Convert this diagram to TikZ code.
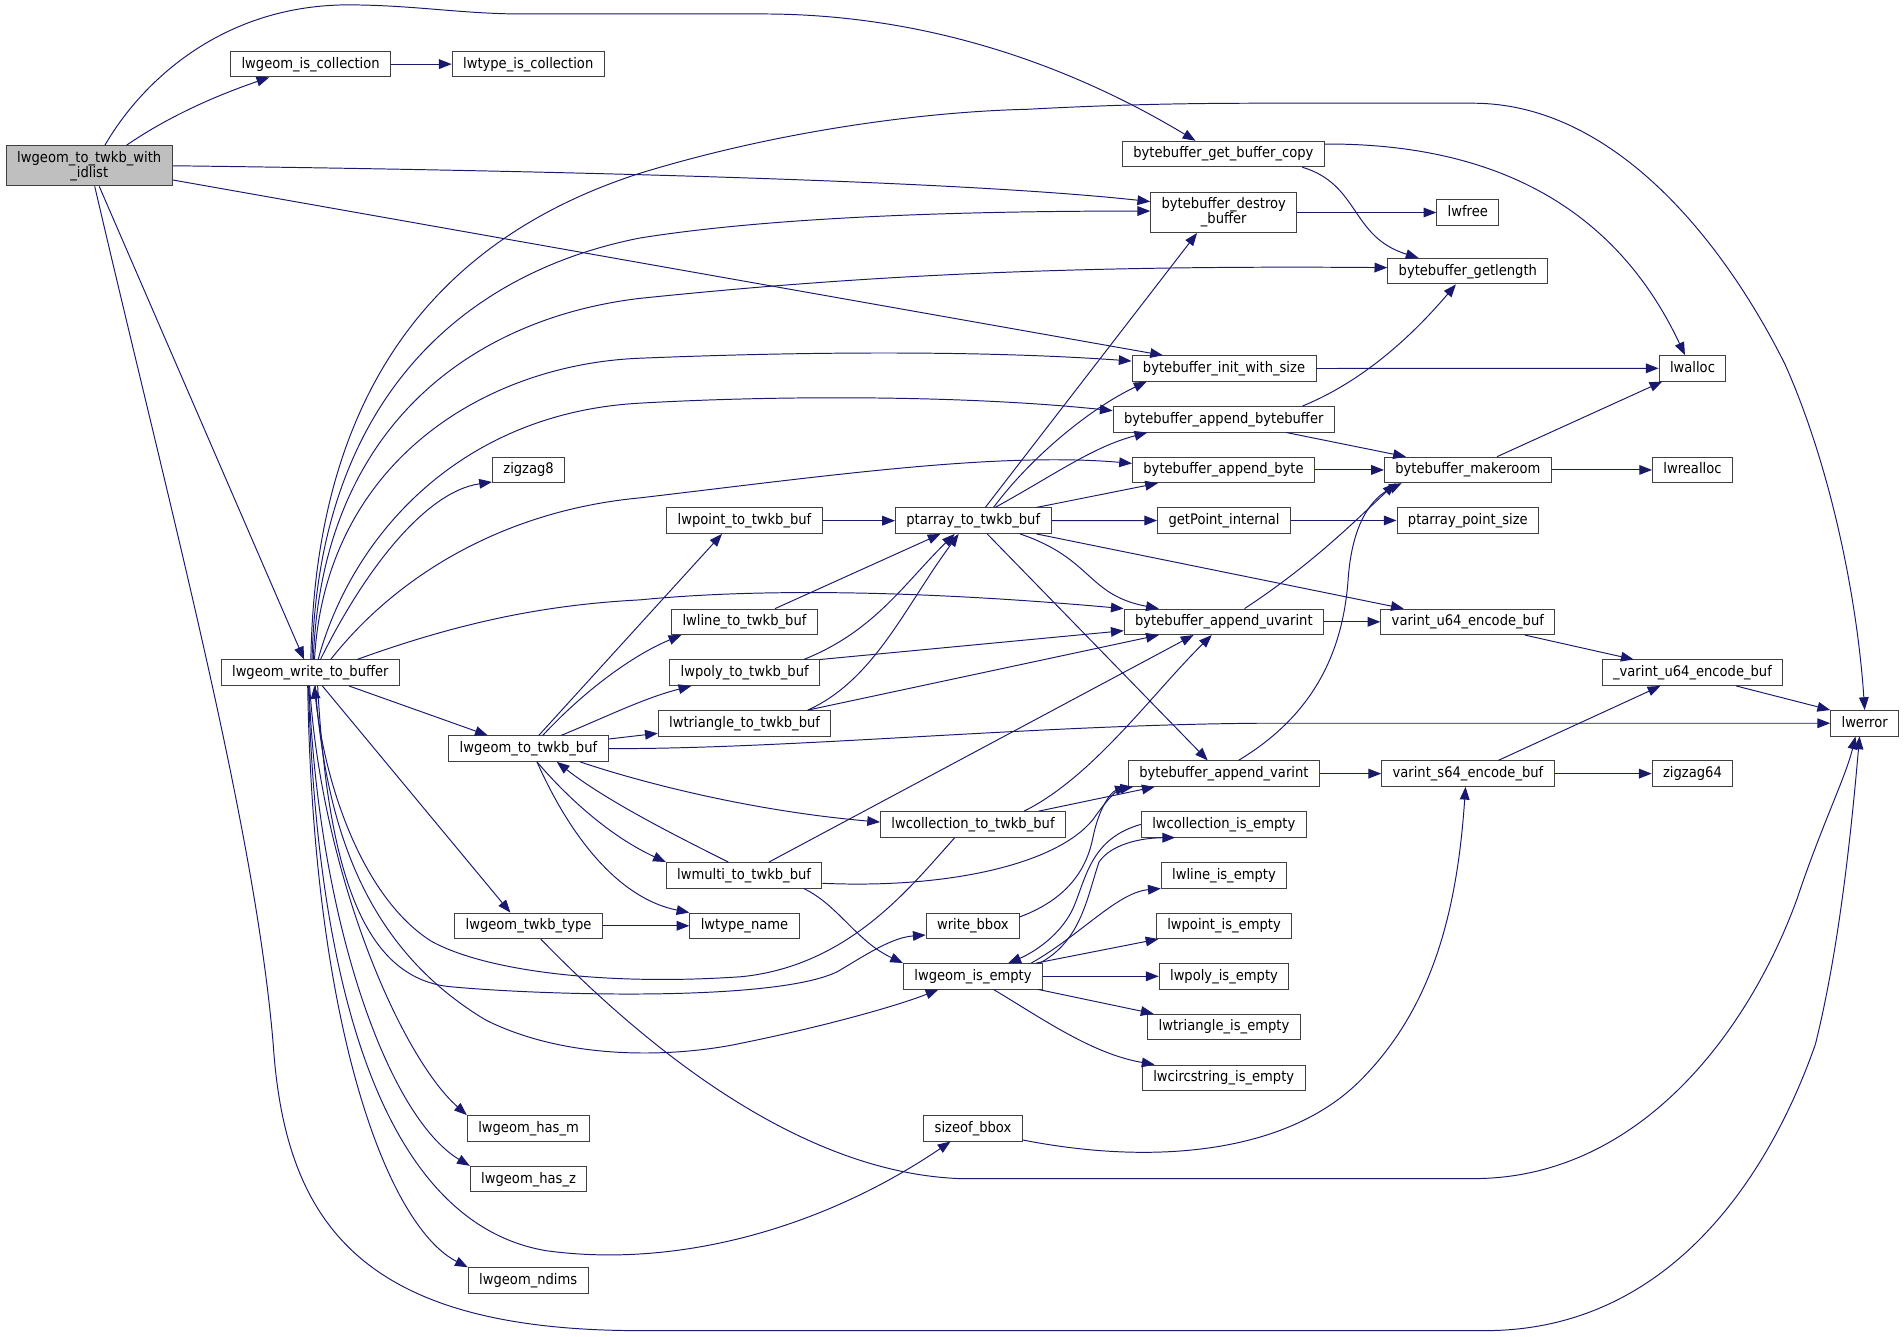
\documentclass[tikz,border=0pt]{standalone}
\usepackage{fontspec}
\setmainfont{DejaVu Sans}[FakeStretch=0.9]
\usetikzlibrary{arrows.meta}
\definecolor{callblue}{HTML}{191970}
\definecolor{boxline}{HTML}{404040}
\definecolor{rootfill}{HTML}{BFBFBF}
\begin{document}
\begin{tikzpicture}[x=1pt,y=-1pt,
fn/.style={draw=boxline,line width=0.8pt,fill=white,font=\fontsize{12}{12.4}\selectfont,inner xsep=9pt,inner ysep=0pt,minimum height=21pt,text height=9.3pt,text depth=2.8pt},
fntwo/.style={draw=boxline,line width=0.8pt,fill=white,font=\fontsize{12}{12.4}\selectfont,inner xsep=9pt,inner ysep=1pt,minimum height=33pt,align=center},
call/.style={draw=callblue,line width=0.8pt,-{Triangle[length=10.5pt,width=8pt]}}]
\useasboundingbox (0,0) rectangle (1568,1101);

\node[fntwo,fill=rootfill] (withidlist) at (73.5,136.5){lwgeom\_to\_twkb\_with\\\_idlist};
\node[fntwo] (destroy) at (1007.8,175){bytebuffer\_destroy\\\_buffer};

\foreach \n/\x/\y/\t in {iscoll/255.8/52.8/lwgeom\_is\_collection,typeiscoll/435/52.8/lwtype\_is\_collection,getcopy/1007.5/126.8/bytebuffer\_get\_buffer\_copy,lwfree/1208.8/175/lwfree,getlength/1208.8/223.3/bytebuffer\_getlength,initsize/1008/303.5/bytebuffer\_init\_with\_size,lwalloc/1393.8/303.3/lwalloc,appbb/1007.8/345.3/bytebuffer\_append\_bytebuffer,zigzag8/435.3/387/zigzag8,appbyte/1007.6/387/bytebuffer\_append\_byte,makeroom/1208.8/387/bytebuffer\_makeroom,lwrealloc/1393.8/387/lwrealloc}{ \node[fn] (\n) at (\x,\y){\t};}

\foreach \n/\x/\y/\t in {pointbuf/613.1/428.8/lwpoint\_to\_twkb\_buf,ptarray/801.5/428.8/ptarray\_to\_twkb\_buf,getpoint/1008/428.6/getPoint\_internal,ptsize/1208.8/428.6/ptarray\_point\_size,linebuf/613.1/512.1/lwline\_to\_twkb\_buf,appuvar/1007.9/512.1/bytebuffer\_append\_uvarint,u64enc/1208.8/512.1/varint\_u64\_encode\_buf,writebuf/255.6/554/lwgeom\_write\_to\_buffer,polybuf/613.3/554/lwpoly\_to\_twkb\_buf,u64raw/1393.8/554/\_varint\_u64\_encode\_buf,tribuf/613.2/595.7/lwtriangle\_to\_twkb\_buf,lwerror/1535.6/595.6/lwerror,geombuf/435.2/616.5/lwgeom\_to\_twkb\_buf,appvar/1007.9/637.1/bytebuffer\_append\_varint,s64enc/1208.9/637.1/varint\_s64\_encode\_buf,zigzag64/1393.8/637.1/zigzag64}{ \node[fn] (\n) at (\x,\y){\t};}

\foreach \n/\x/\y/\t in {collbuf/801.3/678.9/lwcollection\_to\_twkb\_buf,collempty/1007.8/678.9/lwcollection\_is\_empty,multibuf/612.8/720.8/lwmulti\_to\_twkb\_buf,lineempty/1008/720.8/lwline\_is\_empty,twkbtype/435.3/762.4/lwgeom\_twkb\_type,typename/613.1/762.4/lwtype\_name,writebbox/801.2/762.4/write\_bbox,pointempty/1008/762.4/lwpoint\_is\_empty,geomempty/801.3/804/lwgeom\_is\_empty,polyempty/1008/804/lwpoly\_is\_empty,triempty/1008/845.7/lwtriangle\_is\_empty,circempty/1007.8/887.6/lwcircstring\_is\_empty,sizebbox/801.3/929.2/sizeof\_bbox,hasm/435.3/929.2/lwgeom\_has\_m,hasz/435.3/971/lwgeom\_has\_z,ndims/435/1054.5/lwgeom\_ndims}{ \node[fn] (\n) at (\x,\y){\t};}

\foreach \a/\b in {iscoll/typeiscoll,destroy/lwfree,initsize/lwalloc,appbyte/makeroom,makeroom/lwrealloc,pointbuf/ptarray,ptarray/getpoint,getpoint/ptsize,appuvar/u64enc,appvar/s64enc,s64enc/zigzag64,twkbtype/typename,geomempty/polyempty}{ \draw[call] (\a) -- (\b);}

\draw[call] ([xshift=12.9]withidlist.north) .. controls (115,70) and (180,5) .. (285,4) .. controls (340,4) and (380,11.5) .. (430,11.5) -- (628,11.5) .. controls (780,11.5) and (900,65) .. ([xshift=-23]getcopy.north);
\draw[call] ([xshift=30.7]withidlist.north) .. controls (140,95) and (180,78) .. ([xshift=-34]iscoll.south);
\draw[call] (withidlist.east) .. controls (500,141) and (800,150) .. ([yshift=9]destroy.west);
\draw[call] ([yshift=-11.7]withidlist.east) -- ([xshift=-50.3]initsize.north);
\draw[call] ([xshift=8.2]withidlist.south) -- ([xshift=-5.2]writebuf.north);
\draw[call] ([xshift=4.5]withidlist.south) .. controls (140,420) and (210,680) .. (225,860) .. controls (235,1010) and (300,1095.8) .. (527,1095.8) -- (1223,1095.8) .. controls (1380,1095.8) and (1460,960) .. (1495,860) .. controls (1515,780) and (1525,680) .. ([xshift=-4.2]lwerror.south);

\draw[call] ([xshift=65]getcopy.south) .. controls (1120,152) and (1112,195) .. ([xshift=-40.6]getlength.north);
\draw[call] ([yshift=8.2]getcopy.east) .. controls (1230,118) and (1330,170) .. ([xshift=-6.2]lwalloc.north);
\draw[call] ([xshift=64.8]appbb.north) .. controls (1120,315) and (1160,280) .. ([xshift=-9.8]getlength.south);
\draw[call] ([xshift=51.6]appbb.south) -- ([xshift=-51]makeroom.north);
\draw[call] ([xshift=24]makeroom.north) -- ([xshift=-24.8]lwalloc.south);
\draw[call] ([xshift=17]appuvar.north) .. controls (1080,465) and (1115,430) .. ([xshift=-59.6]makeroom.south);
\draw[call] ([xshift=12]appvar.north) .. controls (1080,590) and (1105,540) .. (1110,480) .. controls (1113,430) and (1130,410) .. ([xshift=-54.5]makeroom.south);
\draw[call] ([xshift=47]u64enc.south) -- ([xshift=-48.4]u64raw.north);
\draw[call] ([xshift=25]s64enc.north) -- ([xshift=-26.4]u64raw.south);
\draw[call] ([xshift=36]u64raw.south) -- (lwerror.north west);

\draw[call] ([xshift=0.4]writebuf.north) .. controls (260,300) and (380,190) .. (527,142.7) .. controls (640,108) and (760,92) .. (846,90) .. controls (920,86) and (980,85) .. (1040,85) -- (1213,85) .. controls (1330,85) and (1420,200) .. (1470,300) .. controls (1510,390) and (1530,500) .. (lwerror.north);
\draw[call] ([xshift=1.4]writebuf.north) .. controls (262,330) and (380,225) .. (527,196) .. controls (640,178) and (800,173.8) .. ([yshift=1.2]destroy.west);
\draw[call] ([xshift=2.4]writebuf.north) .. controls (265,350) and (390,262) .. (527,245.7) .. controls (680,230) and (850,218) .. ([yshift=2.9]getlength.west);
\draw[call] ([xshift=3.4]writebuf.north) .. controls (268,380) and (400,300) .. (527,295) .. controls (650,290) and (800,288) .. ([yshift=6.2]initsize.west);
\draw[call] ([xshift=6.4]writebuf.north) .. controls (290,440) and (380,340) .. (527,332) .. controls (650,325) and (800,326) .. ([yshift=7.1]appbb.west);
\draw[call] ([xshift=16.7]writebuf.north) .. controls (330,470) and (420,420) .. (527,410) .. controls (680,392) and (820,372) .. ([yshift=5.4]appbyte.west);
\draw[call] ([xshift=8.3]writebuf.north) .. controls (300,470) and (350,405) .. ([yshift=1]zigzag8.south west);
\draw[call] ([xshift=38.4]writebuf.north) .. controls (380,512) and (450,498) .. (527,494) .. controls (650,482) and (800,490) .. (appuvar.north west);

\draw[call] ([xshift=31.8]writebuf.south) -- ([xshift=-33.5]geombuf.north);
\draw[call] ([xshift=9.9]writebuf.south) -- ([xshift=-15]twkbtype.north);
\draw[call] ([xshift=4]writebuf.south) .. controls (268,680) and (300,780) .. (400,840) .. controls (470,875) and (560,870) .. (611,859) .. controls (680,845) and (740,828) .. ([xshift=-28.5]geomempty.south);
\draw[call] ([xshift=6]writebuf.south) .. controls (270,720) and (300,805) .. (370,812.5) .. controls (450,820) and (640,825) .. (690,800) .. controls (715,785) and (735,772) .. ([yshift=-7.6]writebbox.west);
\draw[call] ([xshift=-15]collbuf.south) .. controls (750,730) and (700,795) .. (611,804.3) .. controls (500,812) and (400,800) .. (355,775) .. controls (300,740) and (268,650) .. ([xshift=3.2]writebuf.south);
\draw[call] ([xshift=-1.6]writebuf.south) .. controls (262,850) and (330,1010) .. (450,1030) .. controls (560,1045) and (680,1010) .. ([xshift=-18.5]sizebbox.south);
\draw[call] ([xshift=-0.6]writebuf.south) .. controls (265,720) and (330,870) .. (hasm.north west);
\draw[call] ([xshift=-1.2]writebuf.south) .. controls (262,760) and (320,920) .. (hasz.north west);
\draw[call] ([xshift=-2.2]writebuf.south) .. controls (258,850) and (320,1010) .. (ndims.north west);

\draw[call] ([xshift=8.5]geombuf.north) -- ([xshift=-18.5]pointbuf.south);
\draw[call] ([xshift=11.8]geombuf.north) .. controls (480,570) and (520,540) .. ([xshift=-52]linebuf.south);
\draw[call] ([xshift=27]geombuf.north) .. controls (500,590) and (530,575) .. ([xshift=-44]polybuf.south);
\draw[call] ([yshift=7.9]geombuf.east) -- ([yshift=-8.2]tribuf.west);
\draw[call] ([xshift=42.4]geombuf.south) .. controls (530,645) and (620,668) .. ([yshift=1.9]collbuf.west);
\draw[call] ([xshift=7]geombuf.south) .. controls (470,660) and (505,690) .. (multibuf.north west);
\draw[call] ([xshift=-13]multibuf.north) .. controls (560,690) and (500,660) .. ([xshift=23.3]geombuf.south);
\draw[call] ([xshift=7]geombuf.south) .. controls (470,690) and (510,740) .. (typename.north west);
\draw[call] (geombuf.east) .. controls (650,617) and (850,597) .. (1037,595.6) -- (lwerror.west);

\draw[call] ([xshift=9.9]ptarray.north) -- ([xshift=-22]destroy.south);
\draw[call] ([xshift=16.7]ptarray.north) .. controls (850,375) and (900,335) .. ([xshift=-63.8]initsize.south);
\draw[call] ([xshift=18]ptarray.north) .. controls (870,390) and (900,368) .. ([xshift=-63]appbb.south);
\draw[call] ([xshift=52]ptarray.north) -- ([xshift=-54]appbyte.south);
\draw[call] ([xshift=38.5]ptarray.south) .. controls (900,460) and (895,490) .. ([xshift=-53.6]appuvar.north);
\draw[call] ([xshift=52]ptarray.south) -- ([xshift=-52.8]u64enc.north);
\draw[call] ([xshift=11.5]ptarray.south) -- ([xshift=-13.3]appvar.north);

\draw[call] ([xshift=25.2]linebuf.north) -- ([xshift=-27]ptarray.south);
\draw[call] ([xshift=48.6]polybuf.north) .. controls (720,520) and (745,480) .. ([xshift=-15.3]ptarray.south);
\draw[call] (polybuf.north east) -- ([yshift=-7.3]appuvar.west);
\draw[call] ([xshift=52]tribuf.north) .. controls (720,560) and (745,500) .. ([xshift=-12]ptarray.south);
\draw[call] ([xshift=52]tribuf.north) -- ([xshift=-53.6]appuvar.south);

\draw[call] ([xshift=20.5]multibuf.north) -- ([xshift=-25]appuvar.south);
\draw[call] ([yshift=-6.6]multibuf.east) .. controls (780,732) and (870,712) .. (900,675) .. controls (912,658) and (920,650) .. ([xshift=4.4]appvar.south west);
\draw[call] ([xshift=49]multibuf.south) .. controls (690,745) and (705,775) .. (geomempty.north west);
\draw[call] ([xshift=42]collbuf.north) .. controls (900,640) and (950,570) .. ([xshift=-10]appuvar.south);
\draw[call] ([xshift=54]collbuf.north) -- ([xshift=-57]appvar.south);

\draw[call] ([xshift=10]twkbtype.south) .. controls (520,850) and (650,965) .. (790,970.6) -- (1213.5,970.6) .. controls (1350,970.6) and (1440,850) .. (1480,740) .. controls (1500,680) and (1520,640) .. ([xshift=-7.6]lwerror.south);
\draw[call] ([yshift=7.4]writebbox.east) .. controls (880,740) and (895,715) .. (900,690) .. controls (905,665) and (915,652) .. (appvar.south west);

\draw[call] (collempty.west) .. controls (900,690) and (895,720) .. (885,745) .. controls (875,770) and (850,785) .. ([xshift=29]geomempty.north);
\draw[call] ([xshift=55]geomempty.north) .. controls (890,775) and (895,740) .. (905,710) .. controls (915,695) and (940,690) .. ([xshift=-40]collempty.south);
\draw[call] ([xshift=48]geomempty.north) .. controls (890,770) and (920,735) .. (lineempty.south west);
\draw[call] ([xshift=52]geomempty.north) -- ([xshift=-54]pointempty.south);
\draw[call] ([xshift=54]geomempty.south) -- ([xshift=-58]triempty.north);
\draw[call] ([xshift=17]geomempty.south) .. controls (860,840) and (900,868) .. ([xshift=-57]circempty.north);
\draw[call] ([yshift=-9.6]sizebbox.east) .. controls (950,960) and (1060,950) .. (1120,890) .. controls (1180,830) and (1200,750) .. ([xshift=-2]s64enc.south);

\end{tikzpicture}
\end{document}
